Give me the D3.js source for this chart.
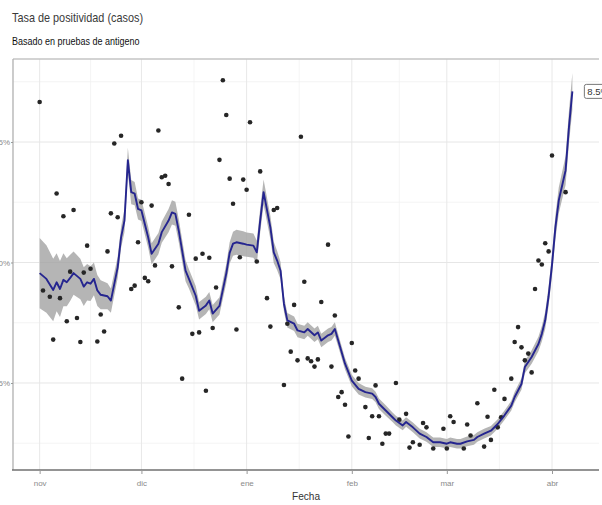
<!DOCTYPE html>
<html><head><meta charset="utf-8">
<script src="https://cdn.jsdelivr.net/npm/d3@7"></script>
<style>
body{margin:0;background:#fff;}
svg{display:block;}
</style></head>
<body>
<svg id="chart" width="602" height="505"></svg>
<script>
// ---- data ----
const startDate = "2020-11-01";            // day 0
const titleText = "Tasa de positividad (casos)";
const subtitleText = "Basado en pruebas de antigeno";
const xTitle = "Fecha";
const monthTicks = ["2020-11-01","2020-12-01","2021-01-01","2021-02-01","2021-03-01","2021-04-01"];
const monthLabels = ["nov","dic","ene","feb","mar","abr"];
const yTicks = [2.5, 5.0, 7.5];
const yMinor = [1.25, 3.75, 6.25, 8.75];
const lastLabel = "8.5%";

// daily observed points: day offset since startDate, positivity %
const pointDay = [0,1,3,4,5,6,7,8,9,10,11,12,13,14,15,17,18,19,20,21,22,23,24,27,28,29,30,31,32,33,34,35,36,37,38,39,41,42,44,45,46,47,48,49,50,51,52,53,54,55,56,57,58,59,60,61,62,64,65,67,68,69,70,72,73,74,75,76,77,78,79,80,81,82,83,85,86,87,88,89,90,91,92,93,94,96,97,98,99,100,101,102,103,105,106,108,109,110,112,113,114,116,119,120,121,122,125,126,127,129,131,132,133,134,135,136,137,139,140,141,142,143,144,145,146,147,148,149,150,151,155];
const pointValue = [8.33,4.42,4.29,3.40,6.43,4.26,5.96,3.78,4.81,6.09,3.85,3.35,4.79,5.35,4.87,3.36,3.92,3.57,5.23,6.02,7.47,5.94,7.63,4.45,4.52,5.42,6.25,4.68,4.61,6.18,4.94,7.74,6.77,6.80,6.63,4.92,4.07,2.59,5.99,3.52,5.08,3.55,5.18,2.34,5.10,3.64,4.48,7.13,8.78,8.06,6.74,6.22,3.61,5.11,6.72,6.51,7.91,5.02,6.89,4.26,3.67,6.09,6.13,2.46,3.73,3.15,4.12,2.97,7.61,4.60,3.01,2.95,2.84,2.99,4.18,5.37,2.84,3.90,2.21,2.31,2.05,1.39,3.33,2.76,2.59,2.00,1.36,1.81,2.45,1.81,1.24,1.45,1.45,2.50,1.74,1.86,1.16,1.27,1.22,1.67,1.58,1.14,1.55,1.14,1.81,1.69,1.14,1.64,1.41,2.08,1.18,1.80,1.32,2.36,1.58,1.79,2.17,2.59,3.35,3.66,3.24,2.97,3.11,2.72,4.45,5.04,4.96,5.40,5.23,7.22,6.46];

// smoothed trend: day offset, value %, half-width of confidence band %
const lineDay = [0,2,4,5,6,7,8,9,10,12,13,14,15,16,17,18,20,21,23,24,25,26,27,28,29,30,32,33,35,36,38,39,40,41,43,44,46,47,49,50,51,53,55,56,57,58,60,61,63,64,65,66,68,69,70,71,72,73,75,76,78,79,81,82,83,85,86,87,88,90,92,94,96,98,99,100,102,104,105,107,108,110,112,114,116,118,120,121,123,124,126,128,129,131,133,135,137,139,140,142,143,145,147,148,149,150,151,152,153,155,156,157];
const lineValue = [4.78,4.66,4.43,4.59,4.45,4.64,4.59,4.68,4.78,4.66,4.50,4.59,4.56,4.66,4.42,4.33,4.30,4.21,4.90,5.52,5.87,7.12,6.46,6.43,6.11,6.08,5.52,5.18,5.39,5.63,5.87,6.04,6.01,5.66,4.83,4.66,4.31,4.00,4.11,4.21,3.94,4.10,4.77,5.20,5.39,5.42,5.39,5.37,5.35,5.21,5.87,6.46,5.73,5.21,5.04,4.83,4.14,3.80,3.73,3.59,3.55,3.62,3.49,3.55,3.38,3.49,3.52,3.62,3.38,2.90,2.55,2.38,2.31,2.28,2.21,2.07,1.93,1.79,1.72,1.62,1.69,1.58,1.45,1.38,1.27,1.27,1.24,1.27,1.24,1.24,1.29,1.32,1.38,1.45,1.51,1.65,1.83,2.03,2.21,2.48,2.83,3.04,3.31,3.52,3.80,4.30,4.95,5.73,6.29,6.91,7.81,8.55];
const lineSE = [0.73,0.70,0.65,0.60,0.58,0.55,0.50,0.48,0.45,0.42,0.40,0.38,0.36,0.34,0.32,0.30,0.27,0.25,0.22,0.22,0.24,0.26,0.25,0.24,0.22,0.22,0.22,0.22,0.22,0.22,0.24,0.25,0.25,0.24,0.22,0.20,0.20,0.18,0.18,0.18,0.18,0.18,0.20,0.22,0.25,0.26,0.26,0.25,0.25,0.24,0.25,0.26,0.24,0.22,0.20,0.18,0.16,0.15,0.15,0.14,0.14,0.14,0.14,0.14,0.14,0.14,0.14,0.14,0.13,0.12,0.12,0.12,0.11,0.11,0.11,0.11,0.11,0.10,0.10,0.10,0.10,0.10,0.10,0.10,0.10,0.10,0.10,0.10,0.10,0.10,0.10,0.10,0.10,0.10,0.10,0.10,0.10,0.10,0.11,0.12,0.13,0.14,0.15,0.16,0.18,0.20,0.22,0.25,0.27,0.30,0.34,0.38];

// ---- drawing ----
const W = 602, H = 505;
const panel = {left: 13, right: 599, top: 59, bottom: 470};
const parse = d3.utcParse("%Y-%m-%d");
const t0 = parse(startDate);
const dayToDate = d => d3.utcDay.offset(t0, d);

const dataMin = dayToDate(d3.min(pointDay.concat(lineDay)));
const dataMax = dayToDate(d3.max(pointDay.concat(lineDay)));
const span = dataMax - dataMin;
const x = d3.scaleUtc()
  .domain([new Date(+dataMin - span*0.05), new Date(+dataMax + span*0.05)])
  .range([panel.left, panel.right]);
const y = d3.scaleLinear().domain([0.695, 9.222]).range([panel.bottom, panel.top]);

const svg = d3.select("#chart");
const font = "'Liberation Sans','Roboto',sans-serif";

// title (horizontally condensed to match the narrow face of the reference)
svg.append("text").attr("transform", "translate(12,22) scale(0.87,1)").attr("font-family", font)
  .attr("font-size", 12.5).attr("fill", "#3a3a3a").text(titleText);
svg.append("text").attr("transform", "translate(12,45) scale(0.9,1)").attr("font-family", font)
  .attr("font-size", 10).attr("fill", "#111").text(subtitleText);

const g = svg.append("g");
svg.append("defs").append("clipPath").attr("id","pclip")
  .append("rect").attr("x", panel.left).attr("y", panel.top)
  .attr("width", panel.right - panel.left).attr("height", panel.bottom - panel.top);

// minor x grid (midpoints between month breaks)
const mt = monthTicks.map(parse);
const xMinor = [];
const extMt = [d3.utcMonth.offset(mt[0], -1)].concat(mt, [d3.utcMonth.offset(mt[mt.length-1], 1)]);
for (let i = 0; i < extMt.length - 1; i++) xMinor.push(new Date((+extMt[i] + +extMt[i+1]) / 2));

g.selectAll(".xminor").data(xMinor.filter(d => x(d) > panel.left && x(d) < panel.right)).join("line")
  .attr("x1", d => x(d)).attr("x2", d => x(d)).attr("y1", panel.top).attr("y2", panel.bottom)
  .attr("stroke", "#f3f3f3").attr("stroke-width", 0.8);
g.selectAll(".yminor").data(yMinor).join("line")
  .attr("x1", panel.left).attr("x2", panel.right).attr("y1", d => y(d)).attr("y2", d => y(d))
  .attr("stroke", "#f0f0f0").attr("stroke-width", 0.8);
g.selectAll(".xmajor").data(mt).join("line")
  .attr("x1", d => x(d)).attr("x2", d => x(d)).attr("y1", panel.top).attr("y2", panel.bottom)
  .attr("stroke", "#e8e8e8").attr("stroke-width", 1);
g.selectAll(".ymajor").data(yTicks).join("line")
  .attr("x1", panel.left).attr("x2", panel.right).attr("y1", d => y(d)).attr("y2", d => y(d))
  .attr("stroke", "#e6e6e6").attr("stroke-width", 1);

// ribbon + line
const lineData = lineDay.map((d, i) => ({date: dayToDate(d), v: lineValue[i], se: lineSE[i]}));
const plotG = svg.append("g").attr("clip-path", "url(#pclip)");
plotG.append("path").datum(lineData)
  .attr("d", d3.area().x(d => x(d.date)).y0(d => y(d.v - d.se)).y1(d => y(d.v + d.se)))
  .attr("fill", "#a2a2a2").attr("fill-opacity", 0.8);

// points
const pts = pointDay.map((d, i) => ({date: dayToDate(d), v: pointValue[i]}));
plotG.selectAll("circle").data(pts).join("circle")
  .attr("cx", d => x(d.date)).attr("cy", d => y(d.v)).attr("r", 2.3)
  .attr("fill", "#262626");

plotG.append("path").datum(lineData)
  .attr("d", d3.line().x(d => x(d.date)).y(d => y(d.v)))
  .attr("fill", "none").attr("stroke", "#25258f").attr("stroke-width", 1.9)
  .attr("stroke-linejoin", "round");

// panel borders
svg.append("line").attr("x1", panel.left).attr("x2", panel.right).attr("y1", panel.top).attr("y2", panel.top)
  .attr("stroke", "#c4c4c4").attr("stroke-width", 1.5);
svg.append("line").attr("x1", panel.left).attr("x2", panel.left).attr("y1", panel.top).attr("y2", panel.bottom)
  .attr("stroke", "#b0b0b0").attr("stroke-width", 1.3);
svg.append("line").attr("x1", panel.left - 1).attr("x2", panel.right).attr("y1", panel.bottom).attr("y2", panel.bottom)
  .attr("stroke", "#707070").attr("stroke-width", 1.6);

// axes
const xAxis = d3.axisBottom(x).tickValues(mt).tickSize(4).tickPadding(6)
  .tickFormat((d, i) => monthLabels[i]);
const xa = svg.append("g").attr("transform", `translate(0,${panel.bottom})`).call(xAxis);
xa.select(".domain").remove();
xa.selectAll("line").attr("stroke", "#999");
xa.selectAll("text").attr("font-family", font).attr("font-size", 8).attr("fill", "#8a8a8a");

const yAxis = d3.axisLeft(y).tickValues(yTicks).tickSize(2).tickPadding(1)
  .tickFormat(d => d3.format(".1f")(d) + "%");
const ya = svg.append("g").attr("transform", `translate(${panel.left},0)`).call(yAxis);
ya.select(".domain").remove();
ya.selectAll("line").attr("stroke", "#999");
ya.selectAll("text").attr("font-family", font).attr("font-size", 8).attr("fill", "#8a8a8a");

svg.append("text").attr("transform", `translate(${(panel.left + panel.right) / 2},500) scale(0.92,1)`)
  .attr("text-anchor", "middle").attr("font-family", font).attr("font-size", 11)
  .attr("fill", "#333").text(xTitle);

// end label
const last = lineData[lineData.length - 1];
const lx = x(last.date) + 12, ly = y(last.v);
const lg = svg.append("g");
lg.append("rect").attr("x", lx).attr("y", ly - 7).attr("width", 26).attr("height", 14)
  .attr("rx", 2).attr("fill", "#fff").attr("stroke", "#777").attr("stroke-width", 1);
lg.append("text").attr("x", lx + 3).attr("y", ly + 3.5).attr("font-family", font)
  .attr("font-size", 9.5).attr("fill", "#333").text(lastLabel);
</script>
</body></html>
